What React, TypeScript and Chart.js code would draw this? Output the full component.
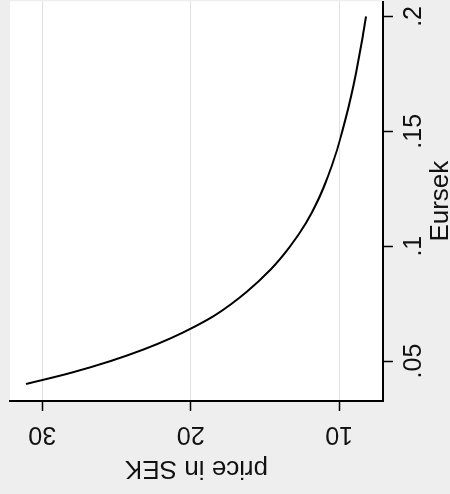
import React, { useEffect, useRef } from 'react';
import { Chart, registerables } from 'chart.js';

Chart.register(...registerables);

// ---- data ----
const eursek = [0.04, 0.045, 0.05, 0.055, 0.06, 0.065, 0.07, 0.08, 0.09, 0.10, 0.11, 0.12, 0.13, 0.14, 0.15, 0.16, 0.17, 0.18, 0.19, 0.20];
const priceSEK = [31.1, 28.0, 25.4, 23.2, 21.33, 19.73, 18.35, 16.25, 14.6, 13.3, 12.25, 11.43, 10.78, 10.24, 9.79, 9.39, 9.04, 8.73, 8.45, 8.2];
const eursekTicks = [0.05, 0.1, 0.15, 0.2];
const priceTicks = [10, 20, 30];
const xTitle = 'Eursek';
const yTitle = 'price in SEK';

const FONT = "'Liberation Sans', Arial, sans-serif";
const TEXT = '#111111';

const fmtDec = (v: number) => {
  const s = String(Math.round(v * 100) / 100);
  return s.startsWith('0.') ? s.slice(1) : s;
};

const plotBg = {
  id: 'plotBg',
  beforeDraw(chart: any) {
    const { ctx, chartArea } = chart;
    ctx.save();
    ctx.fillStyle = '#ffffff';
    ctx.fillRect(chartArea.left, chartArea.top, chartArea.right - chartArea.left, chartArea.bottom - chartArea.top);
    ctx.restore();
  },
};

// Stata-style vertical y tick labels (rotated text), positioned from the scale's ticks
const verticalYTicks = {
  id: 'verticalYTicks',
  afterDraw(chart: any) {
    const s = chart.scales.y;
    const ctx = chart.ctx;
    ctx.save();
    ctx.fillStyle = TEXT;
    ctx.font = `25px ${FONT}`;
    ctx.textAlign = 'center';
    ctx.textBaseline = 'alphabetic';
    s.ticks.forEach((t: any) => {
      const p = s.getPixelForValue(t.value);
      ctx.save();
      ctx.translate(s.right - 26, p);
      ctx.rotate(-Math.PI / 2);
      ctx.fillText(String(t.value), 0, 0);
      ctx.restore();
    });
    ctx.restore();
  },
};

export default function App() {
  const ref = useRef<HTMLCanvasElement>(null);

  useEffect(() => {
    document.body.style.margin = '0';
    const chart = new Chart(ref.current as HTMLCanvasElement, {
      type: 'scatter',
      data: {
        datasets: [
          {
            data: eursek.map((e, i) => ({ x: e, y: priceSEK[i] })),
            showLine: true,
            borderColor: '#000000',
            borderWidth: 2,
            pointRadius: 0,
            cubicInterpolationMode: 'monotone',
            fill: false,
          } as any,
        ],
      },
      options: {
        responsive: false,
        animation: false,
        devicePixelRatio: 1,
        layout: { padding: { top: 10, left: 0, right: 0, bottom: 0 } },
        plugins: { legend: { display: false }, tooltip: { enabled: false } },
        scales: {
          x: {
            type: 'linear',
            position: 'bottom',
            min: 0.0326,
            max: 0.2066,
            afterBuildTicks: (s: any) => {
              s.ticks = eursekTicks.map((v) => ({ value: v }));
            },
            afterFit: (s: any) => {
              s.height = 67;
            },
            grid: { drawOnChartArea: false, drawTicks: true, tickLength: 10, tickColor: '#000', tickWidth: 1.5, color: '#000' },
            border: { display: true, color: '#000', width: 2 },
            ticks: {
              autoSkip: false,
              maxRotation: 0,
              minRotation: 0,
              padding: 6,
              color: TEXT,
              font: { family: FONT, size: 25 },
              callback: (v: any) => fmtDec(Number(v)),
            },
            title: { display: true, text: xTitle, color: TEXT, font: { family: FONT, size: 26 }, padding: { top: 0, bottom: -6 } },
          },
          y: {
            type: 'linear',
            position: 'left',
            min: 7.05,
            max: 32.18,
            afterBuildTicks: (s: any) => {
              s.ticks = priceTicks.map((v) => ({ value: v }));
            },
            afterFit: (s: any) => {
              s.width = 93;
            },
            grid: { color: '#e0e0e0', lineWidth: 1, drawTicks: true, tickLength: 10, tickColor: '#000', tickWidth: 1.5 },
            border: { display: true, color: '#000', width: 2 },
            ticks: { display: false },
            title: { display: true, text: yTitle, color: TEXT, font: { family: FONT, size: 26 }, padding: { top: 10.4, bottom: 0 } },
          },
        },
      } as any,
      plugins: [plotBg, verticalYTicks],
    });
    return () => chart.destroy();
  }, []);

  return (
    <div style={{ position: 'relative', width: 450, height: 494, overflow: 'hidden', background: '#eeeeee' }}>
      <div
        style={{
          position: 'absolute',
          left: 0,
          top: 0,
          width: 494,
          height: 450,
          transformOrigin: '0 0',
          transform: 'translate(0px, 494px) rotate(-90deg)',
        }}
      >
        <canvas ref={ref} width={494} height={450} style={{ display: 'block', width: 494, height: 450 }} />
      </div>
    </div>
  );
}
